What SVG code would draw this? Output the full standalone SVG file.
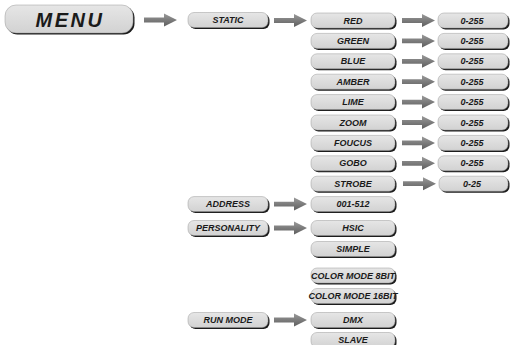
<svg xmlns="http://www.w3.org/2000/svg" xmlns:xlink="http://www.w3.org/1999/xlink" width="515" height="345" viewBox="0 0 515 345">
<defs>
<linearGradient id="gb" x1="0" y1="0" x2="0" y2="1">
<stop offset="0" stop-color="#e6e6e6"/>
<stop offset="1" stop-color="#d2d2d2"/>
</linearGradient>
<linearGradient id="ga" x1="0" y1="0" x2="0" y2="1">
<stop offset="0" stop-color="#9a9a9a"/>
<stop offset="0.5" stop-color="#7c7c7c"/>
<stop offset="1" stop-color="#5e5e5e"/>
</linearGradient>
<path id="arr" d="M0,-2.4 L20,-2.4 L20,-6.5 L33,0 L20,6.5 L20,2.4 L0,2.4 Z"/>
<style>
.sh{fill:#1c1c1c}
.bx{fill:url(#gb);stroke:#9a9a9a;stroke-width:0.5}
.t{font-family:"Liberation Sans",Arial,sans-serif;font-weight:bold;font-style:italic;font-size:9px;fill:#1a1a1a;text-anchor:middle;dominant-baseline:central}
.big{font-size:20px;letter-spacing:2.5px}
.ar{fill:url(#ga)}
</style>
</defs>
<rect width="515" height="345" fill="#ffffff"/>

<g id="connectors">
<use xlink:href="#arr" class="ar" transform="translate(144,20)"/>
<use xlink:href="#arr" class="ar" transform="translate(274,20.5)"/>
<use xlink:href="#arr" class="ar" transform="translate(402,20.5)"/>
<use xlink:href="#arr" class="ar" transform="translate(402,40.9)"/>
<use xlink:href="#arr" class="ar" transform="translate(402,61.3)"/>
<use xlink:href="#arr" class="ar" transform="translate(402,81.7)"/>
<use xlink:href="#arr" class="ar" transform="translate(402,102.1)"/>
<use xlink:href="#arr" class="ar" transform="translate(402,122.5)"/>
<use xlink:href="#arr" class="ar" transform="translate(402,142.9)"/>
<use xlink:href="#arr" class="ar" transform="translate(402,163.3)"/>
<use xlink:href="#arr" class="ar" transform="translate(403,183.7)"/>
<use xlink:href="#arr" class="ar" transform="translate(274,204.1)"/>
<use xlink:href="#arr" class="ar" transform="translate(274,228)"/>
<use xlink:href="#arr" class="ar" transform="translate(274,320)"/>
</g>

<g id="menu"><rect class="sh" x="6.5" y="6.5" width="128" height="28" rx="11"/><rect class="bx" x="5" y="5" width="128" height="28" rx="11"/><text class="t big" x="70" y="19.5">MENU</text></g>
<g id="static"><rect class="sh" x="189.5" y="14" width="80" height="15" rx="6"/><rect class="bx" x="188" y="12.5" width="80" height="15" rx="6"/><text class="t" x="228" y="20">STATIC</text></g>

<g id="red"><rect class="sh" x="312.5" y="14.5" width="84" height="15" rx="6"/><rect class="bx" x="311" y="13" width="84" height="15" rx="6"/><text class="t" x="353" y="20.5">RED</text></g>
<g id="green"><rect class="sh" x="312.5" y="34.9" width="84" height="15" rx="6"/><rect class="bx" x="311" y="33.4" width="84" height="15" rx="6"/><text class="t" x="353" y="40.9">GREEN</text></g>
<g id="blue"><rect class="sh" x="312.5" y="55.3" width="84" height="15" rx="6"/><rect class="bx" x="311" y="53.8" width="84" height="15" rx="6"/><text class="t" x="353" y="61.3">BLUE</text></g>
<g id="amber"><rect class="sh" x="312.5" y="75.7" width="84" height="15" rx="6"/><rect class="bx" x="311" y="74.2" width="84" height="15" rx="6"/><text class="t" x="353" y="81.7">AMBER</text></g>
<g id="lime"><rect class="sh" x="312.5" y="96.1" width="84" height="15" rx="6"/><rect class="bx" x="311" y="94.6" width="84" height="15" rx="6"/><text class="t" x="353" y="102.1">LIME</text></g>
<g id="zoom"><rect class="sh" x="312.5" y="116.5" width="84" height="15" rx="6"/><rect class="bx" x="311" y="115" width="84" height="15" rx="6"/><text class="t" x="353" y="122.5">ZOOM</text></g>
<g id="foucus"><rect class="sh" x="312.5" y="136.9" width="84" height="15" rx="6"/><rect class="bx" x="311" y="135.4" width="84" height="15" rx="6"/><text class="t" x="353" y="142.9">FOUCUS</text></g>
<g id="gobo"><rect class="sh" x="312.5" y="157.3" width="84" height="15" rx="6"/><rect class="bx" x="311" y="155.8" width="84" height="15" rx="6"/><text class="t" x="353" y="163.3">GOBO</text></g>
<g id="strobe"><rect class="sh" x="312.5" y="177.7" width="84" height="15" rx="6"/><rect class="bx" x="311" y="176.2" width="84" height="15" rx="6"/><text class="t" x="353" y="183.7">STROBE</text></g>

<g id="red-val"><rect class="sh" x="439.5" y="14.5" width="70" height="15" rx="6"/><rect class="bx" x="438" y="13" width="70" height="15" rx="6"/><text class="t" x="472" y="20.5">0-255</text></g>
<g id="green-val"><rect class="sh" x="439.5" y="34.9" width="70" height="15" rx="6"/><rect class="bx" x="438" y="33.4" width="70" height="15" rx="6"/><text class="t" x="472" y="40.9">0-255</text></g>
<g id="blue-val"><rect class="sh" x="439.5" y="55.3" width="70" height="15" rx="6"/><rect class="bx" x="438" y="53.8" width="70" height="15" rx="6"/><text class="t" x="472" y="61.3">0-255</text></g>
<g id="amber-val"><rect class="sh" x="439.5" y="75.7" width="70" height="15" rx="6"/><rect class="bx" x="438" y="74.2" width="70" height="15" rx="6"/><text class="t" x="472" y="81.7">0-255</text></g>
<g id="lime-val"><rect class="sh" x="439.5" y="96.1" width="70" height="15" rx="6"/><rect class="bx" x="438" y="94.6" width="70" height="15" rx="6"/><text class="t" x="472" y="102.1">0-255</text></g>
<g id="zoom-val"><rect class="sh" x="439.5" y="116.5" width="70" height="15" rx="6"/><rect class="bx" x="438" y="115" width="70" height="15" rx="6"/><text class="t" x="472" y="122.5">0-255</text></g>
<g id="foucus-val"><rect class="sh" x="439.5" y="136.9" width="70" height="15" rx="6"/><rect class="bx" x="438" y="135.4" width="70" height="15" rx="6"/><text class="t" x="472" y="142.9">0-255</text></g>
<g id="gobo-val"><rect class="sh" x="439.5" y="157.3" width="70" height="15" rx="6"/><rect class="bx" x="438" y="155.8" width="70" height="15" rx="6"/><text class="t" x="472" y="163.3">0-255</text></g>
<g id="strobe-val"><rect class="sh" x="440.5" y="177.7" width="69" height="15" rx="6"/><rect class="bx" x="439" y="176.2" width="69" height="15" rx="6"/><text class="t" x="472" y="183.7">0-25</text></g>

<g id="address"><rect class="sh" x="189.5" y="198.1" width="80" height="15" rx="6"/><rect class="bx" x="188" y="196.6" width="80" height="15" rx="6"/><text class="t" x="228" y="204.1">ADDRESS</text></g>
<g id="address-val"><rect class="sh" x="312.5" y="198.1" width="84" height="15" rx="6"/><rect class="bx" x="311" y="196.6" width="84" height="15" rx="6"/><text class="t" x="353" y="204.1">001-512</text></g>

<g id="personality"><rect class="sh" x="189.5" y="222" width="80" height="15" rx="6"/><rect class="bx" x="188" y="220.5" width="80" height="15" rx="6"/><text class="t" x="228" y="228">PERSONALITY</text></g>
<g id="hsic"><rect class="sh" x="312.5" y="222" width="84" height="15" rx="6"/><rect class="bx" x="311" y="220.5" width="84" height="15" rx="6"/><text class="t" x="353" y="228">HSIC</text></g>
<g id="simple"><rect class="sh" x="312.5" y="243" width="84" height="15" rx="6"/><rect class="bx" x="311" y="241.5" width="84" height="15" rx="6"/><text class="t" x="353" y="249">SIMPLE</text></g>
<g id="color8"><rect class="sh" x="312.5" y="269.5" width="84" height="15" rx="6"/><rect class="bx" x="311" y="268" width="84" height="15" rx="6"/><text class="t" x="353" y="275.5">COLOR MODE 8BIT</text></g>
<g id="color16"><rect class="sh" x="312.5" y="290" width="84" height="15" rx="6"/><rect class="bx" x="311" y="288.5" width="84" height="15" rx="6"/><text class="t" x="353" y="296">COLOR MODE 16BIT</text></g>

<g id="runmode"><rect class="sh" x="189.5" y="314" width="80" height="15" rx="6"/><rect class="bx" x="188" y="312.5" width="80" height="15" rx="6"/><text class="t" x="228" y="320">RUN MODE</text></g>
<g id="dmx"><rect class="sh" x="312.5" y="314" width="84" height="15" rx="6"/><rect class="bx" x="311" y="312.5" width="84" height="15" rx="6"/><text class="t" x="353" y="320">DMX</text></g>
<g id="slave"><rect class="sh" x="312.5" y="334" width="84" height="15" rx="6"/><rect class="bx" x="311" y="332.5" width="84" height="15" rx="6"/><text class="t" x="353" y="340">SLAVE</text></g>
</svg>
